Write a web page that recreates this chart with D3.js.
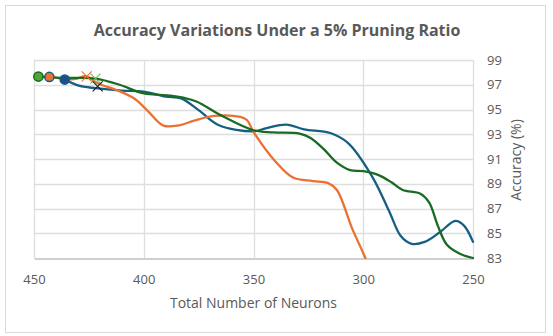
<!DOCTYPE html>
<html><head><meta charset="utf-8">
<script src="https://cdn.jsdelivr.net/npm/d3@7"></script>
<style>
html,body{margin:0;padding:0;background:#fff;}
svg{display:block;}
text{font-family:"Open Sans","Liberation Sans",sans-serif;fill:#595959;}
</style></head>
<body><svg id="chart" width="553" height="336"></svg>
<script>
// ---- data ----
const title = "Accuracy Variations Under a 5% Pruning Ratio";
const xTitle = "Total Number of Neurons";
const yTitle = "Accuracy (%)";
const xTicks = [450, 400, 350, 300, 250];
const yTicks = [83, 85, 87, 89, 91, 93, 95, 97, 99];

const blueNeurons = [436, 430, 422, 410, 400, 390, 383, 375, 366, 350, 344, 335, 327, 315, 307, 296, 288, 283, 278, 272, 265, 258, 254, 250];
const blueAcc     = [97.42, 96.95, 96.72, 96.52, 96.45, 96.05, 95.9, 94.95, 93.75, 93.24, 93.5, 93.78, 93.4, 93.1, 92.3, 89.6, 86.7, 84.8, 84.15, 84.3, 85.1, 86.0, 85.6, 84.3];

const orangeNeurons = [443, 432, 426, 421, 412, 404, 398, 391, 384, 377, 368, 356, 353, 350, 340, 332, 323, 316, 312, 305, 299];
const orangeAcc     = [97.63, 97.45, 97.68, 97.12, 96.55, 95.85, 94.85, 93.7, 93.72, 94.1, 94.48, 94.4, 94.15, 93.2, 90.8, 89.5, 89.22, 89.05, 88.5, 85.35, 83.0];

const greenNeurons = [448, 436, 422, 411, 401, 394, 388, 382, 376, 364, 350, 341, 329, 324, 318, 312, 306, 300, 293, 287, 282, 274, 270, 266, 262, 256, 250];
const greenAcc     = [97.66, 97.55, 97.5, 97.0, 96.35, 96.2, 96.12, 95.95, 95.65, 94.45, 93.32, 93.15, 93.05, 92.7, 91.8, 90.7, 90.1, 90.02, 89.7, 89.1, 88.5, 88.2, 87.5, 85.6, 84.1, 83.35, 83.0];

// start markers (circles) and X markers
const startNeurons = [448, 443, 436];
const startAcc     = [97.66, 97.63, 97.42];
const crossNeurons = [426, 422, 421];
const crossAcc     = [97.68, 97.5, 96.86];

// ---- drawing ----
const svg = d3.select("#chart");
const plot = {left: 34, right: 473, top: 60, bottom: 258};

const x = d3.scaleLinear().domain([450, 250]).range([plot.left, plot.right]);
const y = d3.scaleLinear().domain([83, 99]).range([plot.bottom, plot.top]);

// outer border
svg.append("rect").attr("x", 5.5).attr("y", 5.5).attr("width", 540).attr("height", 327)
  .attr("fill", "#fff").attr("stroke", "#d9d9d9").attr("stroke-width", 1);

// title
svg.append("text").attr("x", 277).attr("y", 36).attr("text-anchor", "middle")
  .style("font-size", "16px").style("font-weight", "bold").text(title);

// gridlines
const grid = svg.append("g");
grid.selectAll("line.h").data(yTicks.filter(d => d !== 83)).join("line")
  .attr("x1", plot.left).attr("x2", plot.right)
  .attr("y1", d => Math.round(y(d)) + 0.5).attr("y2", d => Math.round(y(d)) + 0.5)
  .attr("stroke", "#dedede").attr("stroke-width", 1.3);
grid.selectAll("line.v").data(xTicks).join("line")
  .attr("x1", d => Math.round(x(d)) + 0.5).attr("x2", d => Math.round(x(d)) + 0.5)
  .attr("y1", plot.top).attr("y2", plot.bottom)
  .attr("stroke", "#dedede").attr("stroke-width", 1.3);

// x axis (bottom)
const xAxis = svg.append("g").attr("transform", `translate(0,${Math.round(plot.bottom) + 0.5})`)
  .call(d3.axisBottom(x).tickValues(xTicks).tickSize(0).tickPadding(16));
xAxis.select(".domain").attr("stroke", "#bfbfbf").attr("stroke-width", 1.3);
xAxis.selectAll("text").style("font-size", "13px").attr("fill", "#595959")
  .style("font-family", '"Open Sans", sans-serif');

// y axis (right)
const yAxis = svg.append("g").attr("transform", `translate(${plot.right},0)`)
  .call(d3.axisRight(y).tickValues(yTicks).tickSize(0).tickPadding(14));
yAxis.select(".domain").remove();
yAxis.selectAll("text").style("font-size", "13px").attr("fill", "#595959")
  .style("font-family", '"Open Sans", sans-serif');

// axis titles
svg.append("text").attr("x", (plot.left + plot.right) / 2).attr("y", 308).attr("text-anchor", "middle")
  .style("font-size", "14px").text(xTitle);
svg.append("text").attr("transform", `translate(521,${(plot.top + plot.bottom) / 2 + 1}) rotate(-90)`)
  .attr("text-anchor", "middle").style("font-size", "14px").text(yTitle);

// lines
const line = d3.line().x(d => x(d[0])).y(d => y(d[1])).curve(d3.curveCatmullRom.alpha(0.5));
const series = [
  {n: blueNeurons, a: blueAcc, color: "#156082"},
  {n: orangeNeurons, a: orangeAcc, color: "#E97132"},
  {n: greenNeurons, a: greenAcc, color: "#196B24"}
];
series.forEach(s => {
  svg.append("path").datum(s.n.map((v, i) => [v, s.a[i]]))
    .attr("d", line).attr("fill", "none").attr("stroke", s.color)
    .attr("stroke-width", 2.3).attr("stroke-linecap", "round").attr("stroke-linejoin", "round");
});

// circle markers
const circFill = ["#4EA72E", "#E97132", "#1F4E8C"];
const circStroke = ["#196B24", "#156082", "#156082"];
svg.selectAll("circle.start").data(startNeurons).join("circle")
  .attr("cx", d => x(d)).attr("cy", (d, i) => y(startAcc[i])).attr("r", 4.6)
  .attr("fill", (d, i) => circFill[i]).attr("stroke", (d, i) => circStroke[i]).attr("stroke-width", 1.5);

// x markers
const crossColor = ["#E97132", "#6DBE4F", "#1a1a1a"];
crossNeurons.forEach((n, i) => {
  const cx = x(n), cy = y(crossAcc[i]), r = 5;
  svg.append("path").attr("d", `M${cx - r},${cy - r}L${cx + r},${cy + r}M${cx - r},${cy + r}L${cx + r},${cy - r}`)
    .attr("stroke", crossColor[i]).attr("stroke-width", 1.1).attr("fill", "none");
});
</script></body></html>
